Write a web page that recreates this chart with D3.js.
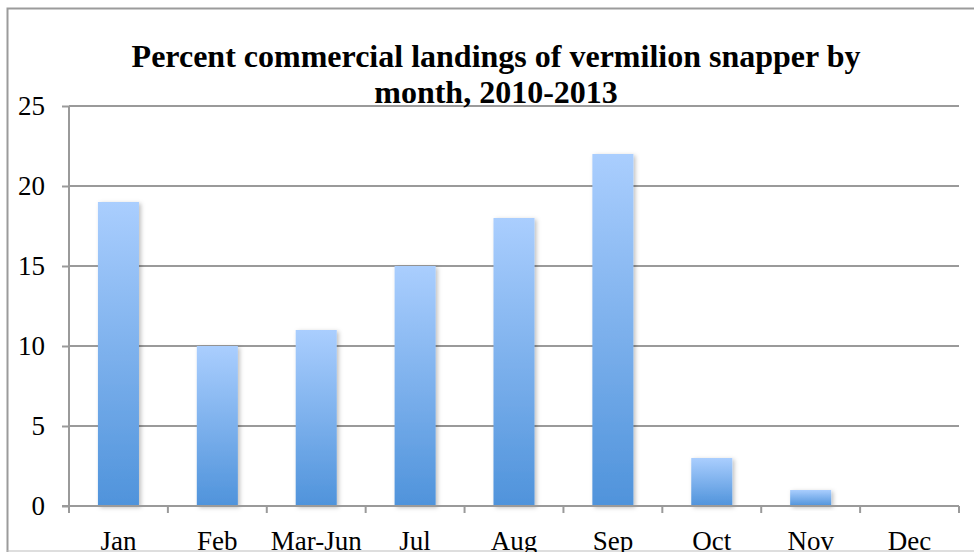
<!DOCTYPE html>
<html>
<head>
<meta charset="utf-8">
<script src="https://cdn.jsdelivr.net/npm/d3@7"></script>
<style>
body{margin:0;background:#fff}
svg{display:block}
</style>
</head>
<body>
<svg></svg>
<script>
var months=["Jan","Feb","Mar-Jun","Jul","Aug","Sep","Oct","Nov","Dec"]
var percent=[19,10,11,15,18,22,3,1,0]
var yTicks=[0,5,10,15,20,25]
var titleLines=["Percent commercial landings of vermilion snapper by","month, 2010-2013"]

var screen={width:974,height:552}
var plot={left:69,right:959,top:106,bottom:506}
var serif="'Liberation Serif', 'Times New Roman', serif"

var svg=d3.select("svg")
  .attr("width",screen.width)
  .attr("height",screen.height)

var defs=svg.append("defs")
var grad=defs.append("linearGradient")
  .attr("id","barfill")
  .attr("x1",0).attr("y1",0).attr("x2",0).attr("y2",1)
grad.append("stop").attr("offset","0%").attr("stop-color","#aacefe")
grad.append("stop").attr("offset","100%").attr("stop-color","#4f93db")
var shadow=defs.append("filter")
  .attr("id","shadow")
  .attr("x","-20%").attr("y","-20%").attr("width","150%").attr("height","150%")
shadow.append("feDropShadow")
  .attr("dx",2).attr("dy",1.5)
  .attr("stdDeviation",2)
  .attr("flood-color","#000")
  .attr("flood-opacity",0.25)

// outer frame
svg.append("path")
  .attr("d","M7.5,552 V8.5 H974")
  .attr("fill","none")
  .attr("stroke","#9b9b9b")
  .attr("stroke-width",2)
svg.append("line")
  .attr("x1",7).attr("x2",974)
  .attr("y1",551).attr("y2",551)
  .attr("stroke","#bdbdbd")
  .attr("stroke-width",1)

var xScale=d3.scaleBand()
  .domain(months)
  .range([plot.left,plot.right])
  .paddingInner(0.585)
  .paddingOuter(0.2925)
var yScale=d3.scaleLinear()
  .domain([0,25])
  .range([plot.bottom,plot.top])

// gridlines
svg.append("g")
  .selectAll("line")
  .data(yTicks.filter(function(d){return d>0}))
  .enter()
  .append("line")
  .attr("x1",plot.left)
  .attr("x2",plot.right)
  .attr("y1",function(d){return yScale(d)})
  .attr("y2",function(d){return yScale(d)})
  .attr("stroke","#9a9a9a")
  .attr("stroke-width",2)

// bars
svg.append("g")
  .selectAll("rect")
  .data(percent.map(function(v,i){return {m:months[i],v:v}}).filter(function(d){return d.v>0}))
  .enter()
  .append("rect")
  .attr("x",function(d){return xScale(d.m)})
  .attr("y",function(d){return yScale(d.v)})
  .attr("width",xScale.bandwidth())
  .attr("height",function(d){return yScale(0)-yScale(d.v)})
  .attr("fill","url(#barfill)")
  .attr("filter","url(#shadow)")

// y axis
var yAxis=svg.append("g")
  .attr("transform","translate("+plot.left+",0)")
  .call(d3.axisLeft(yScale).tickValues(yTicks).tickSize(7).tickPadding(17))
yAxis.select(".domain").attr("stroke","#9a9a9a").attr("stroke-width",2)
  .attr("d","M0,"+plot.top+"V"+plot.bottom)
yAxis.selectAll(".tick line").attr("stroke","#9a9a9a").attr("stroke-width",2)
yAxis.selectAll(".tick text")
  .attr("fill","#000")
  .attr("font-family",serif)
  .attr("font-size",27)
  .attr("dy","0.33em")

// x axis with ticks between categories
var bounds=d3.range(months.length+1).map(function(i){return plot.left+i*(plot.right-plot.left)/months.length})
var xg=svg.append("g")
xg.append("line")
  .attr("x1",plot.left-7).attr("x2",plot.right)
  .attr("y1",plot.bottom).attr("y2",plot.bottom)
  .attr("stroke","#9a9a9a").attr("stroke-width",2)
xg.selectAll(".xt")
  .data(bounds)
  .enter()
  .append("line")
  .attr("class","xt")
  .attr("x1",function(d){return d}).attr("x2",function(d){return d})
  .attr("y1",plot.bottom).attr("y2",plot.bottom+7)
  .attr("stroke","#9a9a9a").attr("stroke-width",2)
xg.selectAll("text")
  .data(months)
  .enter()
  .append("text")
  .attr("x",function(d){return xScale(d)+xScale.bandwidth()/2})
  .attr("y",550)
  .attr("text-anchor","middle")
  .attr("font-family",serif)
  .attr("font-size",27)
  .attr("fill","#000")
  .text(function(d){return d})

// title
svg.append("g")
  .selectAll("text")
  .data(titleLines)
  .enter()
  .append("text")
  .attr("x",496)
  .attr("y",function(d,i){return 67+i*36})
  .attr("text-anchor","middle")
  .attr("font-family",serif)
  .attr("font-weight","bold")
  .attr("font-size",32)
  .attr("fill","#000")
  .text(function(d){return d})
</script>
</body>
</html>
